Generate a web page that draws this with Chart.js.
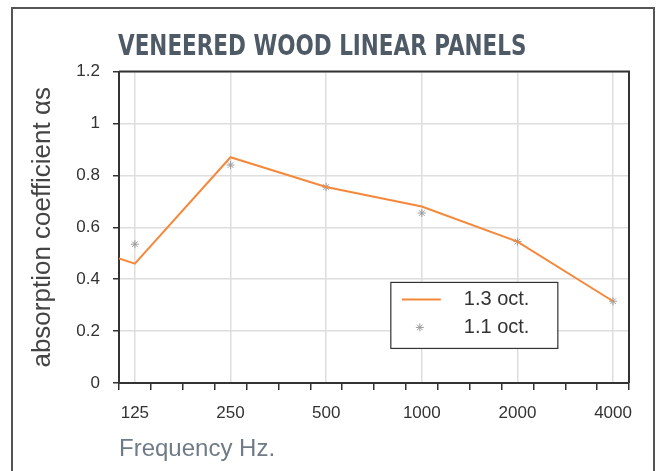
<!DOCTYPE html>
<html>
<head>
<meta charset="utf-8">
<script src="https://cdn.jsdelivr.net/npm/chart.js@4.4.1/dist/chart.umd.min.js"></script>
<style>
  html, body { margin: 0; padding: 0; background: #fff; }
  #wrap { position: relative; width: 658px; height: 471px; overflow: hidden; }
  #frame { position: absolute; left: 11px; top: 7px; width: 640px; height: 500px; border: 2px solid #555; }
  canvas { position: absolute; left: 0; top: 0; }
</style>
</head>
<body>
<div id="wrap">
  <div id="frame"></div>
  <canvas id="chart" width="658" height="471"></canvas>
</div>
<script>
// --- data ---
const chartTitle = 'VENEERED WOOD LINEAR PANELS';
const bandFreqs = [125, 250, 500, 1000, 2000, 4000];
const bandLabels = ['125', '250', '500', '1000', '2000', '4000'];

// 1.3 oct. curve (first point sits on the left edge of the plot)
const thirdOctFreqs = [111.4, 125, 250, 500, 1000, 2000, 4000];
const thirdOctValues = [0.48, 0.46, 0.87, 0.755, 0.68, 0.545, 0.315];

// 1.1 oct. markers
const octaveValues = [0.535, 0.84, 0.755, 0.655, 0.545, 0.315];

const yMin = 0, yMax = 1.2, yStep = 0.2;
const xMin = 111.4, xMax = 4490;   // 1/6 octave either side of 125 / 4000

const condensed = "'DejaVu Sans Condensed', 'DejaVu Sans', sans-serif";
const plain = "'Liberation Sans', Arial, sans-serif";

function isBand(v) {
    return bandFreqs.some(f => Math.abs(f - v) < 0.5);
}

// small tick marks every third of an octave, plus the band centres
function xTicks() {
    const t = [];
    for (let k = 0; k <= 16; k++) t.push({ value: xMin * Math.pow(2, k / 3) });
    bandFreqs.forEach(f => t.push({ value: f }));
    t.sort((a, b) => a.value - b.value);
    return t;
}

// top and right edge of the plot box, plus the squeezed bold title
const boxPlugin = {
    id: 'plotBox',
    afterDraw(chart) {
        const a = chart.chartArea, c = chart.ctx;
        c.save();
        c.strokeStyle = '#333';
        c.lineWidth = 2;
        c.beginPath();
        c.moveTo(a.left, a.top);
        c.lineTo(a.right, a.top);
        c.lineTo(a.right, a.bottom);
        c.stroke();
        c.restore();

        // title: condensed bold, narrowed a bit more to match the original face
        const tb = chart.titleBlock;
        c.save();
        c.font = 'bold 27.5px ' + condensed;
        c.fillStyle = '#4e5a66';
        c.textBaseline = 'alphabetic';
        c.translate(a.left - 1, tb.top + 27 + 28);
        c.scale(0.87, 1);
        c.fillText(chartTitle, 0, 0);
        c.restore();
    }
};

// legend drawn inside the plot, lower right
const boxLegend = {
    id: 'boxLegend',
    afterDraw(chart) {
        const a = chart.chartArea, c = chart.ctx;
        const bx = a.left + (a.right - a.left) * 0.533;
        const by = a.top + (a.bottom - a.top) * 0.677;
        const w = 167, h = 66;
        c.save();
        c.fillStyle = '#fff';
        c.fillRect(bx, by, w, h);
        c.strokeStyle = '#333';
        c.lineWidth = 1.2;
        c.strokeRect(bx, by, w, h);
        c.font = '20px ' + plain;
        c.textBaseline = 'middle';
        const ds = chart.data.datasets;
        // line entry
        let y = by + 17;
        c.strokeStyle = ds[0].borderColor;
        c.lineWidth = ds[0].borderWidth;
        c.beginPath();
        c.moveTo(bx + 11, y);
        c.lineTo(bx + 50, y);
        c.stroke();
        c.fillStyle = '#333';
        c.fillText(ds[0].label, bx + 73, y);
        // marker entry
        y = by + 45;
        c.strokeStyle = ds[1].borderColor;
        c.fillStyle = ds[1].backgroundColor;
        c.lineWidth = ds[1].borderWidth;
        Chart.helpers.drawPoint(c, {
            pointStyle: ds[1].pointStyle, rotation: 0,
            radius: ds[1].pointRadius, borderWidth: ds[1].borderWidth
        }, bx + 29, y);
        c.fillStyle = '#333';
        c.fillText(ds[1].label, bx + 73, y);
        c.restore();
    }
};

document.addEventListener('DOMContentLoaded', function () {
    const ctx = document.getElementById('chart').getContext('2d');
    new Chart(ctx, {
        type: 'line',
        data: {
            datasets: [
                {
                    label: '1.3 oct.',
                    data: thirdOctFreqs.map((f, i) => ({ x: f, y: thirdOctValues[i] })),
                    borderColor: '#f5883a',
                    borderWidth: 2,
                    pointRadius: 0,
                    tension: 0,
                    fill: false,
                },
                {
                    label: '1.1 oct.',
                    data: bandFreqs.map((f, i) => ({ x: f, y: octaveValues[i] })),
                    showLine: false,
                    pointStyle: 'star',
                    pointRadius: 4,
                    borderColor: '#9a9a9a',
                    backgroundColor: '#9a9a9a',
                    borderWidth: 1,
                },
            ],
        },
        options: {
            responsive: false,
            animation: false,
            layout: { padding: { left: 0, right: 29, top: 0, bottom: 0 } },
            plugins: {
                legend: { display: false },
                tooltip: { enabled: false },
                // reserves the space; the visible title is drawn by plotBox
                title: {
                    display: true,
                    text: chartTitle,
                    align: 'start',
                    fullSize: false,
                    color: 'rgba(0,0,0,0)',
                    font: { family: condensed, size: 28, weight: 'bold' },
                    padding: { top: 27, bottom: 11 },
                },
            },
            scales: {
                x: {
                    type: 'logarithmic',
                    min: xMin,
                    max: xMax,
                    afterBuildTicks: s => { s.ticks = xTicks(); },
                    afterFit: s => { s.height = 88; },
                    grid: {
                        color: c => isBand(c.tick.value) ? '#dedede' : 'rgba(0,0,0,0)',
                        tickColor: c => isBand(c.tick.value) ? 'rgba(0,0,0,0)' : '#333',
                        lineWidth: 1.5,
                        tickLength: 7,
                    },
                    border: { color: '#333', width: 2 },
                    ticks: {
                        autoSkip: false,
                        maxRotation: 0,
                        color: '#333',
                        font: { family: plain, size: 17 },
                        padding: 13,
                        callback: function (v) {
                            const i = bandFreqs.findIndex(f => Math.abs(f - v) < 0.5);
                            return i >= 0 ? bandLabels[i] : '';
                        },
                    },
                    title: {
                        display: true,
                        text: 'Frequency Hz.',
                        align: 'start',
                        color: '#6f7b86',
                        font: { family: plain, size: 24 },
                        padding: { top: 0, bottom: 7 },
                    },
                },
                y: {
                    min: yMin,
                    max: yMax,
                    afterFit: s => { s.width = 119; },
                    grid: {
                        color: '#dedede',
                        lineWidth: 1.5,
                        tickColor: '#333',
                        tickLength: 6,
                    },
                    border: { color: '#333', width: 2 },
                    ticks: {
                        stepSize: yStep,
                        color: '#333',
                        font: { family: plain, size: 17 },
                        padding: 13,
                        callback: v => String(Math.round(v * 10) / 10),
                    },
                    title: {
                        display: true,
                        text: 'absorption coefficient αs',
                        color: '#444',
                        font: { family: plain, size: 26 },
                        padding: { top: 27, bottom: 0 },
                    },
                },
            },
        },
        plugins: [boxPlugin, boxLegend],
    });
});
</script>
</body>
</html>
